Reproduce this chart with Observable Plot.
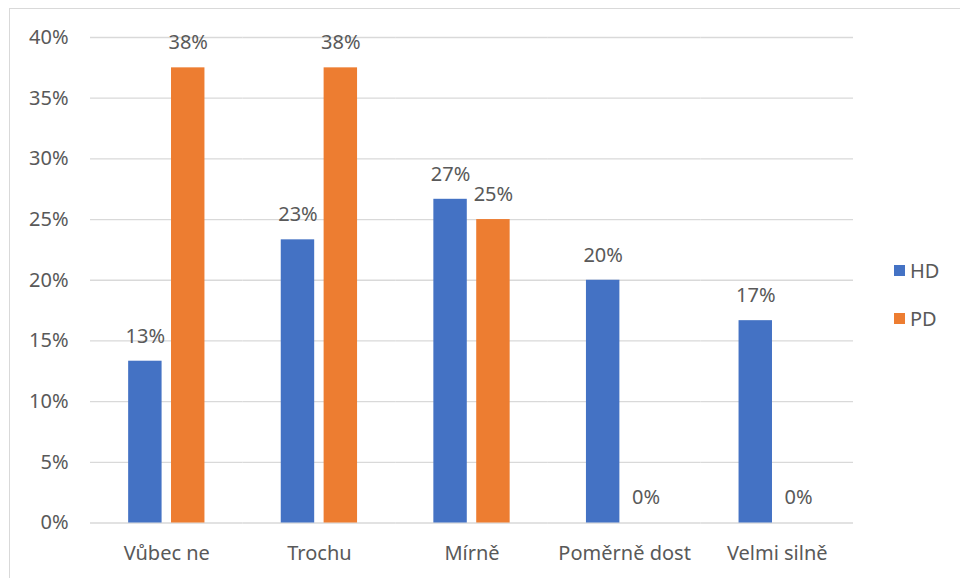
<!DOCTYPE html>
<html>
<head>
<meta charset="utf-8">
<script src="https://cdn.jsdelivr.net/npm/d3@7"></script>
<script src="https://cdn.jsdelivr.net/npm/@observablehq/plot@0.6"></script>
<style>
  html, body { margin: 0; padding: 0; background: #fff; }
  #wrap { position: relative; width: 960px; height: 578px; overflow: hidden; font-family: "Noto Sans", sans-serif; }
  #frame { position: absolute; left: 9px; top: 8px; width: 1000px; height: 700px; border: 1.5px solid #d9d9d9; box-sizing: border-box; }
  #chart { position: absolute; left: 0; top: 0; }
  #legend { position: absolute; left: 894px; top: 256px; color: #595959; font-size: 20px; }
  .item { display: flex; align-items: center; height: 28px; margin-bottom: 20px; }
  .sw { width: 11px; height: 11px; margin-right: 5px; }
</style>
</head>
<body>
<div id="wrap">
  <div id="frame"></div>
  <div id="chart"></div>
  <div id="legend"></div>
</div>
<script>
const categories = ["Vůbec ne", "Trochu", "Mírně", "Poměrně dost", "Velmi silně"];
const series = ["HD", "PD"];
const hdValues = [0.1333, 0.2333, 0.2667, 0.20, 0.1667];
const pdValues = [0.375, 0.375, 0.25, 0, 0];
const yTicks = [0, 0.05, 0.10, 0.15, 0.20, 0.25, 0.30, 0.35, 0.40];
const colors = ["#4472C4", "#ED7D31"];

const data = categories.flatMap((c, i) => [
  {category: c, series: "HD", value: hdValues[i]},
  {category: c, series: "PD", value: pdValues[i]}
]);

const pct = d => Math.round(d * 100) + "%";

const chart = Plot.plot({
  width: 960,
  height: 578,
  marginLeft: 90,
  marginRight: 107,
  marginTop: 37,
  marginBottom: 55.5,
  style: {fontFamily: "'Noto Sans', sans-serif", fontSize: "20px", color: "#595959", background: "transparent"},
  fx: {domain: categories, padding: 0, round: false, label: null, axis: "bottom", tickSize: 0, tickPadding: 23},
  x: {domain: series, paddingInner: 0.22, paddingOuter: 0.89, round: false, axis: null},
  y: {domain: [0, 0.4], ticks: yTicks, tickFormat: pct, label: null, tickSize: 0, tickPadding: 22},
  color: {domain: series, range: colors},
  marks: [
    Plot.gridY(yTicks, {stroke: "#d9d9d9", strokeOpacity: 1, strokeWidth: 1.3}),
    Plot.barY(data, {fx: "category", x: "series", y: "value", fill: "series"}),
    Plot.text(data, {fx: "category", x: "series", y: "value", text: d => pct(d.value), dy: -25, fill: "#595959", fontSize: 20})
  ]
});
document.getElementById("chart").appendChild(chart);

const legend = document.getElementById("legend");
series.forEach((s, i) => {
  const item = document.createElement("div");
  item.className = "item";
  const sw = document.createElement("div");
  sw.className = "sw";
  sw.style.background = colors[i];
  const lab = document.createElement("span");
  lab.textContent = s;
  item.appendChild(sw);
  item.appendChild(lab);
  legend.appendChild(item);
});
</script>
</body>
</html>
